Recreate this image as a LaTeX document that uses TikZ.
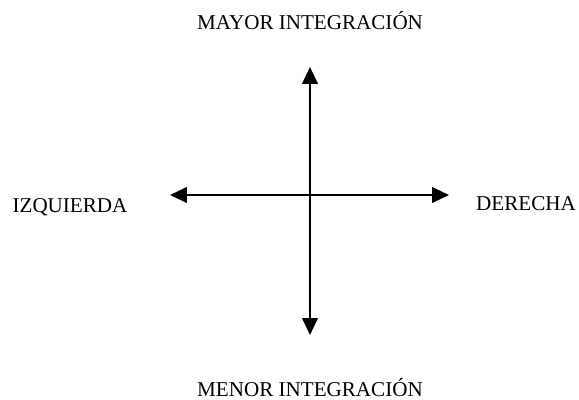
\documentclass[tikz,border=0pt]{standalone}
\usepackage{fontspec}
\setmainfont{Liberation Serif}
\usetikzlibrary{arrows.meta}
\tikzset{etiqueta/.style={font=\fontsize{15}{17}\selectfont, inner sep=0pt, anchor=base}}
\begin{document}
\begin{tikzpicture}[x=0.025cm, y=-0.025cm, eje/.style={line width=1.6pt, {Triangle[length=12pt, width=11pt]}-{Triangle[length=12pt, width=11pt]}}]
        \useasboundingbox (0,0) rectangle (579,400);
        \coordinate (izq) at (170,195);
        \coordinate (der) at (449,195);
        \coordinate (arr) at (310,67);
        \coordinate (aba) at (310,335);
        \node[etiqueta] (mayor) at (310,30) {MAYOR INTEGRACIÓN};
        \node[etiqueta] (menor) at (310,396) {MENOR INTEGRACIÓN};
        \node[etiqueta] (izquierda) at (70,213) {IZQUIERDA};
        \node[etiqueta] (derecha) at (526,210) {DERECHA};
        \draw[eje] (izq) -- (der);
        \draw[eje] (aba) -- (arr);
      \end{tikzpicture}
\end{document}
